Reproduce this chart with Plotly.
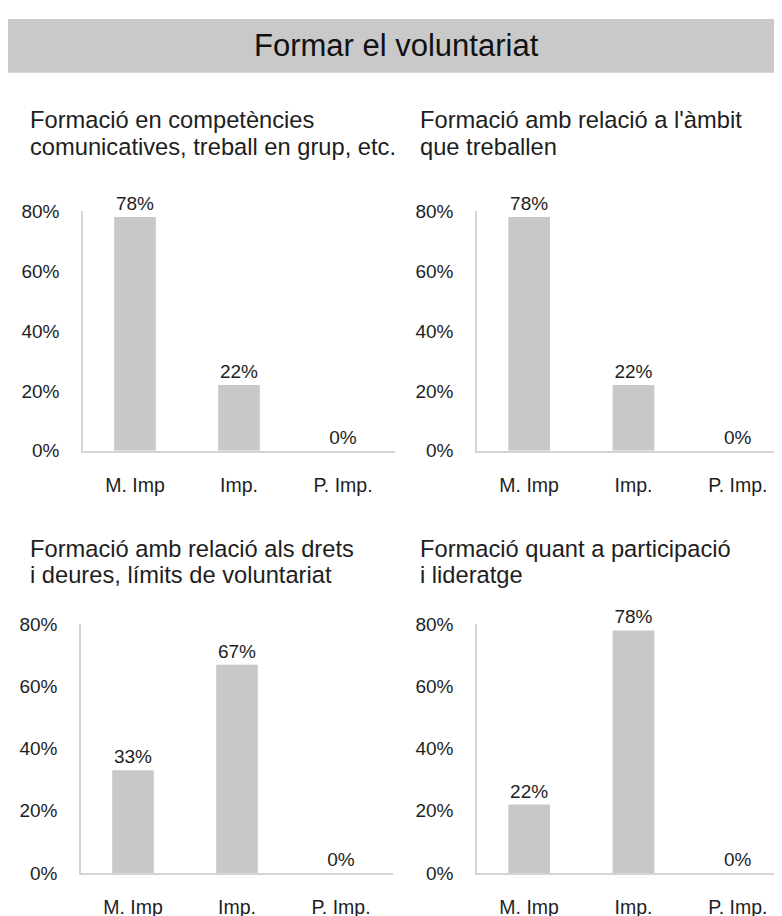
import plotly.graph_objects as go

W, H = 782, 916
OFF = 8  # the page body margin shifts the figure by 8 px

CATEGORIES = ["M. Imp", "Imp.", "P. Imp."]
TITLES = [
    ["Formació en competències", "comunicatives, treball en grup, etc."],
    ["Formació amb relació a l'àmbit", "que treballen"],
    ["Formació amb relació als drets", "i deures, límits de voluntariat"],
    ["Formació quant a participació", "i lideratge"],
]
VALUES_COMPETENCIES = [0.78, 0.22, 0.0]
VALUES_AMBIT = [0.78, 0.22, 0.0]
VALUES_DRETS = [0.33, 0.67, 0.0]
VALUES_LIDERATGE = [0.22, 0.78, 0.0]
MAIN_TITLE = "Formar el voluntariat"

FONT = "Liberation Sans, Arial, sans-serif"
TEXT = "#1e1e1e"
BAR = "#c8c8c8"
AXIS = "#d4d4d4"


def px_x(v):
    return min(max((v - OFF) / W, 0), 1)


def px_y(v):
    return min(max(1 - (v - OFF) / H, 0), 1)


# panel layout in reference pixels: (x0, x1, y_top, y_bottom, title_x, title_line_centres)
panels = [
    (83, 395, 205.5, 451, 28, (112, 140)),
    (477, 790, 205.5, 451, 418, (112, 140)),
    (81, 393, 628.5, 883, 28, (551, 578)),
    (477, 790, 628.5, 883, 418, (551, 578)),
]
series = [VALUES_COMPETENCIES, VALUES_AMBIT, VALUES_DRETS, VALUES_LIDERATGE]

fig = go.Figure()
layout = {}
annotations = []

for i, (vals, (x0, x1, yt, yb, tx, tys)) in enumerate(zip(series, panels), start=1):
    sfx = "" if i == 1 else str(i)
    fig.add_trace(
        go.Bar(
            x=CATEGORIES,
            y=vals,
            xaxis="x" + sfx,
            yaxis="y" + sfx,
            marker={"color": BAR, "line": {"width": 0}},
            text=[f"{v:.0%}" for v in vals],
            textposition="outside",
            textfont={"size": 19, "color": TEXT, "family": FONT},
            cliponaxis=False,
            showlegend=False,
        )
    )
    layout["xaxis" + sfx] = {
        "domain": [px_x(x0), px_x(x1)],
        "anchor": "y" + sfx,
        "range": [-0.5, 2.5],
        "showline": True,
        "linecolor": AXIS,
        "linewidth": 1.5,
        "showgrid": False,
        "zeroline": False,
        "ticks": "",
        "ticklabelstandoff": 16,
        "tickfont": {"size": 19.5, "color": TEXT, "family": FONT},
        "fixedrange": True,
    }
    layout["yaxis" + sfx] = {
        "domain": [px_y(yb), px_y(yt)],
        "anchor": "x" + sfx,
        "range": [0, 0.8],
        "tickvals": [0, 0.2, 0.4, 0.6, 0.8],
        "tickformat": ".0%",
        "showline": True,
        "linecolor": AXIS,
        "linewidth": 1.5,
        "showgrid": False,
        "zeroline": False,
        "ticks": "",
        "ticklabelstandoff": 18,
        "tickfont": {"size": 19, "color": TEXT, "family": FONT},
        "fixedrange": True,
    }
    for line, ty in zip(TITLES[i - 1], tys):
        annotations.append(
            {
                "text": line,
                "xref": "paper",
                "yref": "paper",
                "x": px_x(tx),
                "y": px_y(ty),
                "xanchor": "left",
                "yanchor": "middle",
                "align": "left",
                "showarrow": False,
                "font": {"size": 23.7, "color": TEXT, "family": FONT},
            }
        )

annotations.append(
    {
        "text": MAIN_TITLE,
        "xref": "paper",
        "yref": "paper",
        "x": px_x(396),
        "y": px_y(36.5),
        "xanchor": "center",
        "yanchor": "middle",
        "showarrow": False,
        "font": {"size": 31, "color": "#111111", "family": FONT},
    }
)

fig.update_layout(
    **layout,
    width=W,
    height=H,
    margin={"l": 0, "r": 0, "t": 0, "b": 0},
    paper_bgcolor="white",
    plot_bgcolor="white",
    bargap=0.6,
    annotations=annotations,
    shapes=[
        {
            "type": "rect",
            "xref": "paper",
            "yref": "paper",
            "x0": px_x(4),
            "x1": 1,
            "y0": px_y(64),
            "y1": px_y(9),
            "fillcolor": "#c9c9c9",
            "line": {"width": 0},
            "layer": "below",
        }
    ],
)

fig.write_html("out.html")
